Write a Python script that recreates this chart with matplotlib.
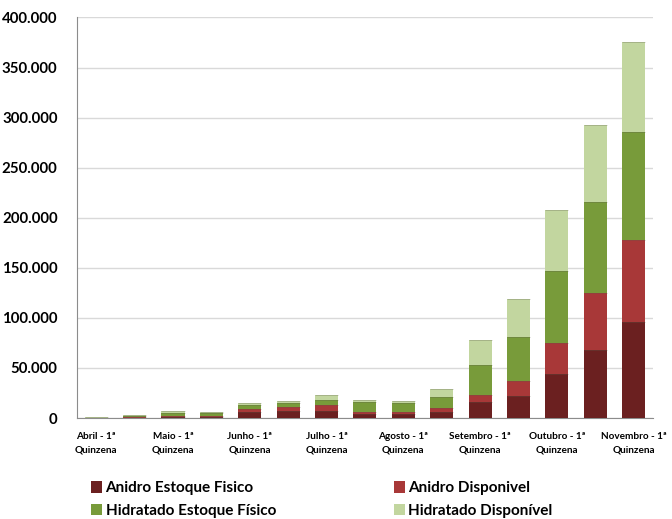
import matplotlib.pyplot as plt
from matplotlib.patches import Patch
from matplotlib.ticker import FuncFormatter

# quinzenas (abril 1a ate novembro 1a)
periods = ["Abril - 1ª", "Abril - 2ª", "Maio - 1ª", "Maio - 2ª", "Junho - 1ª",
           "Junho - 2ª", "Julho - 1ª", "Julho - 2ª", "Agosto - 1ª", "Agosto - 2ª",
           "Setembro - 1ª", "Setembro - 2ª", "Outubro - 1ª", "Outubro - 2ª",
           "Novembro - 1ª"]

anidro_fisico = [200, 500, 1200, 1200, 6000, 7000, 6500, 4000, 4000, 6000,
                 16000, 22000, 44000, 68000, 96000]
anidro_disp = [100, 300, 500, 500, 3000, 4000, 6500, 2000, 2000, 4000,
               7000, 15000, 31000, 57000, 82000]
hidratado_fisico = [200, 1200, 3500, 3000, 4000, 4000, 5000, 10000, 9000, 11000,
                    30000, 44000, 72000, 91000, 108000]
hidratado_disp = [100, 500, 1300, 800, 2000, 2000, 4500, 2000, 2000, 8000,
                  25000, 38000, 61000, 77000, 90000]

series = [
    ("Anidro Estoque Fisico", anidro_fisico, "#6B2020"),
    ("Anidro Disponivel", anidro_disp, "#A83838"),
    ("Hidratado Estoque Físico", hidratado_fisico, "#789B3A"),
    ("Hidratado Disponível", hidratado_disp, "#C2D69F"),
]

plt.rcParams["font.family"] = ["Lato", "DejaVu Sans"]

fig = plt.figure(figsize=(6.72, 5.19), dpi=100)
ax = fig.add_axes([0.1146, 0.1946, 0.857, 0.7717])

x = list(range(len(periods)))
bottom = [0] * len(periods)
handles = {}
for name, vals, color in series:
    ax.bar(x, vals, 0.6, bottom=bottom, color=color, edgecolor="none", zorder=3)
    # linha mais escura no topo de cada segmento
    ax.bar(x, [0] * len(x), 0.6, bottom=[b + v for b, v in zip(bottom, vals)],
           edgecolor="#5a5a4a", linewidth=0.4, zorder=4, alpha=0.5)
    bottom = [b + v for b, v in zip(bottom, vals)]
    handles[name] = Patch(facecolor=color, label=name)

ax.set_xlim(-0.5, len(periods) - 0.5)
ax.set_ylim(0, 400000)
ax.set_yticks(range(0, 400001, 50000))
ax.yaxis.set_major_formatter(FuncFormatter(lambda v, p: f"{int(v):,}".replace(",", ".")))
ax.grid(axis="y", color="#D9D9D9", linewidth=1, zorder=0)
ax.tick_params(axis="y", length=0, pad=14, labelsize=10.8)
for t in ax.get_yticklabels():
    t.set_fontweight("bold")

ax.set_xticks(x[::2])
ax.set_xticklabels([p + "\nQuinzena" for p in periods[::2]], fontsize=7.2,
                   fontweight="bold", linespacing=1.6)
ax.tick_params(axis="x", length=0, pad=10)

for s in ["top", "right"]:
    ax.spines[s].set_visible(False)
ax.spines["left"].set_color("#8C8C8C")
ax.spines["bottom"].set_color("#8C8C8C")

order = ["Anidro Estoque Fisico", "Hidratado Estoque Físico",
         "Anidro Disponivel", "Hidratado Disponível"]
fig.legend([handles[n] for n in order], order, ncol=2, loc="lower left",
           bbox_to_anchor=(0.115, -0.024), frameon=False,
           handlelength=0.75, handleheight=0.75, handletextpad=0.2,
           columnspacing=7.7, labelspacing=0.55,
           prop={"weight": "bold", "size": 11})

fig.savefig("out.png", dpi=100)
